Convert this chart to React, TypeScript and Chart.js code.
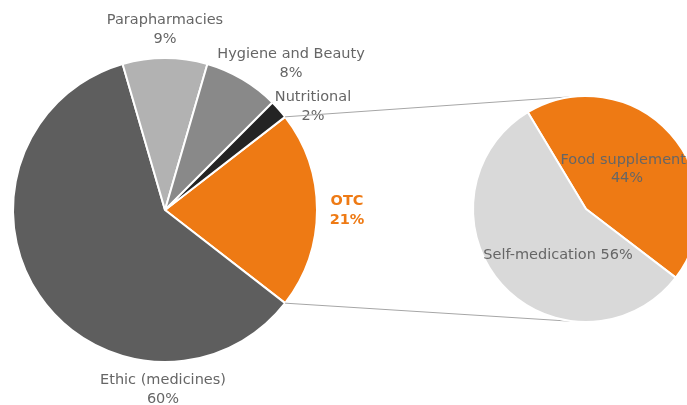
import React, { useEffect, useRef } from "react";
import { Chart, registerables } from "chart.js";

Chart.register(...registerables);

const mainLabels = ["OTC", "Ethic (medicines)", "Parapharmacies", "Hygiene and Beauty", "Nutritional"];
const mainValues = [21, 60, 9, 8, 2];
const mainColors = ["#ee7a14", "#5e5e5e", "#b2b2b2", "#898989", "#242424"];

const subLabels = ["Food supplements", "Self-medication"];
const subValues = [44, 56];
const subColors = ["#ee7a14", "#d9d9d9"];

const W = 800;
const H = 405;
const FONT = "DejaVu Sans";
const TEXT = "#666666";
const FS = 14.5;

// label offsets from pie centre (styling only)
const mainLabelOffsets = [
  { dx: 182, dy: 1 },
  { dx: -2, dy: 180 },
  { dx: 0, dy: -180 },
  { dx: 126, dy: -146 },
  { dx: 148, dy: -103 },
];
const subLabelOffsets = [
  { dx: 41, dy: -40 },
  { dx: -28, dy: 46 },
];

function total(a: number[]) {
  return a.reduce((s, v) => s + v, 0);
}

export default function App() {
  const aRef = useRef<HTMLCanvasElement>(null);
  const bRef = useRef<HTMLCanvasElement>(null);

  useEffect(() => {
    document.body.style.margin = "0";
    const mainTotal = total(mainValues);
    const subTotal = total(subValues);

    const mainLabelPlugin = {
      id: "mainLabels",
      afterDatasetsDraw(chart: any) {
        const ctx = chart.ctx;
        const meta = chart.getDatasetMeta(0);
        ctx.save();
        ctx.textAlign = "center";
        ctx.textBaseline = "middle";
        meta.data.forEach((arc: any, i: number) => {
          const o = mainLabelOffsets[i];
          const x = arc.x + o.dx;
          const y = arc.y + o.dy;
          const pct = Math.round((mainValues[i] / mainTotal) * 100) + "%";
          if (i === 0) {
            ctx.fillStyle = mainColors[0];
            ctx.font = `bold ${FS}px ${FONT}`;
          } else {
            ctx.fillStyle = TEXT;
            ctx.font = `${FS}px ${FONT}`;
          }
          ctx.fillText(mainLabels[i], x, y - 9.5);
          ctx.fillText(pct, x, y + 9.5);
        });
        ctx.restore();
      },
    };

    const chartA = new Chart(aRef.current!, {
      type: "pie",
      data: {
        labels: mainLabels,
        datasets: [
          {
            data: mainValues,
            backgroundColor: mainColors,
            borderColor: "#ffffff",
            borderWidth: 2,
          },
        ],
      },
      options: {
        responsive: false,
        animation: false,
        rotation: 90 - (mainValues[0] / mainTotal) * 180,
        radius: 152,
        layout: { padding: { left: 13, right: W - 317, top: 58, bottom: H - 362 } },
        plugins: { legend: { display: false }, tooltip: { enabled: false } },
      } as any,
      plugins: [mainLabelPlugin],
    });

    const connectorPlugin = {
      id: "connectors",
      beforeDatasetsDraw(chart: any) {
        const ctx = chart.ctx;
        const a: any = chartA.getDatasetMeta(0).data[0];
        const b: any = chart.getDatasetMeta(0).data[0];
        if (!a || !b) return;
        const r1 = a.outerRadius;
        const r2 = b.outerRadius;
        const p1 = { x: a.x + r1 * Math.cos(a.startAngle), y: a.y + r1 * Math.sin(a.startAngle) };
        const p2 = { x: a.x + r1 * Math.cos(a.endAngle), y: a.y + r1 * Math.sin(a.endAngle) };
        const t = -95 * (Math.PI / 180);
        const q1 = { x: b.x + r2 * Math.cos(t), y: b.y + r2 * Math.sin(t) };
        const q2 = { x: b.x + r2 * Math.cos(-t), y: b.y + r2 * Math.sin(-t) };
        ctx.save();
        ctx.strokeStyle = "#a6a6a6";
        ctx.lineWidth = 1;
        ctx.beginPath();
        ctx.moveTo(p1.x, p1.y);
        ctx.lineTo(q1.x, q1.y);
        ctx.moveTo(p2.x, p2.y);
        ctx.lineTo(q2.x, q2.y);
        ctx.stroke();
        ctx.restore();
      },
      afterDatasetsDraw(chart: any) {
        const ctx = chart.ctx;
        const meta = chart.getDatasetMeta(0);
        ctx.save();
        ctx.textAlign = "center";
        ctx.textBaseline = "middle";
        ctx.fillStyle = TEXT;
        ctx.font = `${FS}px ${FONT}`;
        meta.data.forEach((arc: any, i: number) => {
          const o = subLabelOffsets[i];
          const x = arc.x + o.dx;
          const y = arc.y + o.dy;
          const pct = Math.round((subValues[i] / subTotal) * 100) + "%";
          if (i === 0) {
            ctx.fillText(subLabels[i], x, y - 9);
            ctx.fillText(pct, x, y + 9);
          } else {
            ctx.fillText(subLabels[i] + " " + pct, x, y);
          }
        });
        ctx.restore();
      },
    };

    const chartB = new Chart(bRef.current!, {
      type: "pie",
      data: {
        labels: subLabels,
        datasets: [
          {
            data: subValues,
            backgroundColor: subColors,
            borderColor: "#ffffff",
            borderWidth: 2,
          },
        ],
      },
      options: {
        responsive: false,
        animation: false,
        rotation: -31,
        radius: 113,
        layout: { padding: { left: 473, right: W - 699, top: 96, bottom: H - 322 } },
        plugins: { legend: { display: false }, tooltip: { enabled: false } },
      } as any,
      plugins: [connectorPlugin],
    });

    return () => {
      chartB.destroy();
      chartA.destroy();
    };
  }, []);

  return (
    <div
      style={{
        position: "fixed",
        left: 0,
        top: 0,
        width: 687,
        height: 405,
        overflow: "hidden",
        background: "#ffffff",
      }}
    >
      <canvas ref={aRef} width={W} height={H} style={{ position: "absolute", left: 0, top: 0 }} />
      <canvas ref={bRef} width={W} height={H} style={{ position: "absolute", left: 0, top: 0 }} />
    </div>
  );
}
